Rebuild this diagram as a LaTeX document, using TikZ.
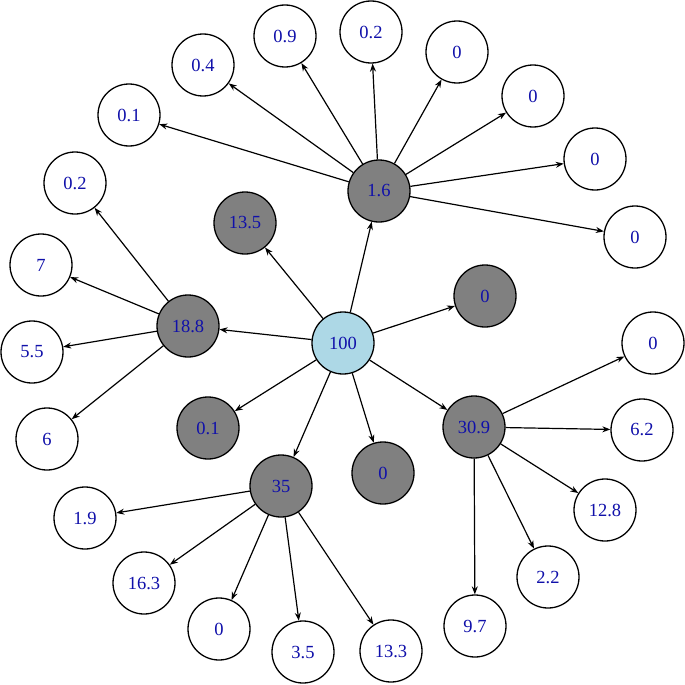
\documentclass[tikz,border=0pt]{standalone}
\usepackage{fontspec}
\setmainfont{Liberation Serif}
\usetikzlibrary{arrows.meta}
\definecolor{txtblue}{RGB}{16,16,170}
\definecolor{nodegray}{RGB}{128,128,128}
\definecolor{rootblue}{RGB}{173,216,230}
\tikzset{
  basenode/.style={circle,draw=black,line width=1.3pt,minimum size=62pt,inner sep=0pt,
    font=\fontsize{18.5}{18.5}\selectfont,text=txtblue},
  leaf/.style={basenode,fill=white},
  mid/.style={basenode,fill=nodegray},
  root/.style={basenode,fill=rootblue},
  edge/.style={line width=1.2pt,-{Stealth[length=8pt,width=6pt]}}
}
\begin{document}
\begin{tikzpicture}[x=1pt,y=-1pt]
\useasboundingbox (0,0) rectangle (685,685);
% root and mid
\node[root] (r) at (343,343) {100};
\node[mid] (m16) at (379,191) {1.6};
\node[mid] (m135) at (245,223) {13.5};
\node[mid] (m188) at (188,326) {18.8};
\node[mid] (m0a) at (485,296) {0};
\node[mid] (m01) at (208,428) {0.1};
\node[mid] (m0b) at (383,473) {0};
\node[mid] (m309) at (474,427) {30.9};
\node[mid] (m35) at (281,486) {35};
% leaves of 1.6
\node[leaf] (a1) at (129,115) {0.1};
\node[leaf] (a2) at (203,65) {0.4};
\node[leaf] (a3) at (285,36) {0.9};
\node[leaf] (a4) at (371,32) {0.2};
\node[leaf] (a5) at (457,52) {0};
\node[leaf] (a6) at (533,96) {0};
\node[leaf] (a7) at (595,159) {0};
\node[leaf] (a8) at (635,237) {0};
% leaves of 18.8
\node[leaf] (b1) at (75,183) {0.2};
\node[leaf] (b2) at (41,265) {7};
\node[leaf] (b3) at (32,352) {5.5};
\node[leaf] (b4) at (47,439) {6};
% leaves of 35
\node[leaf] (c1) at (85,518) {1.9};
\node[leaf] (c2) at (144,583) {16.3};
\node[leaf] (c3) at (219,629) {0};
\node[leaf] (c4) at (303,652) {3.5};
\node[leaf] (c5) at (391,651) {13.3};
% leaves of 30.9
\node[leaf] (d1) at (653,343) {0};
\node[leaf] (d2) at (642,430) {6.2};
\node[leaf] (d3) at (605,510) {12.8};
\node[leaf] (d4) at (548,577) {2.2};
\node[leaf] (d5) at (475,626) {9.7};
% edges
\foreach \t in {m16,m135,m188,m0a,m01,m0b,m309,m35} \draw[edge] (r) -- (\t);
\foreach \t in {a1,a2,a3,a4,a5,a6,a7,a8} \draw[edge] (m16) -- (\t);
\foreach \t in {b1,b2,b3,b4} \draw[edge] (m188) -- (\t);
\foreach \t in {c1,c2,c3,c4,c5} \draw[edge] (m35) -- (\t);
\foreach \t in {d1,d2,d3,d4,d5} \draw[edge] (m309) -- (\t);
\end{tikzpicture}
\end{document}
